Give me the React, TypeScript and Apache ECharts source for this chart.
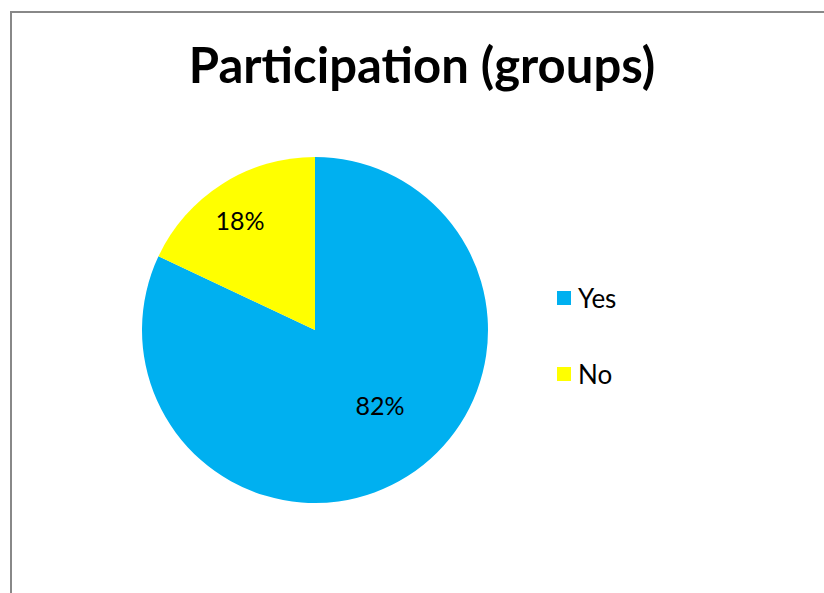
import React, { useEffect, useRef } from "react";
import * as echarts from "echarts";

const titleText = "Participation (groups)";
const categories = ["Yes", "No"];
const values = [82, 18];
const colors = ["#00B0F0", "#FFFF00"];
// label nudges (Excel best-fit placement)
const labelShift = [
  [17, -1],
  [-27, -34],
];

export default function App() {
  const ref = useRef<HTMLDivElement>(null);
  useEffect(() => {
    const chart = echarts.init(ref.current!, null, { renderer: "svg" });
    chart.setOption({
      animation: false,
      backgroundColor: "#ffffff",
      textStyle: { fontFamily: "Lato" },
      graphic: [
        {
          type: "rect",
          shape: { x: 11, y: 12, width: 900, height: 700 },
          style: { fill: "none", stroke: "#888888", lineWidth: 2 },
          silent: true,
        },
        {
          type: "text",
          x: 422,
          y: 64,
          style: {
            text: titleText,
            fontFamily: "Lato",
            fontWeight: "bold",
            fontSize: 49,
            fill: "#000",
            align: "center",
            verticalAlign: "middle",
          },
          silent: true,
        },
      ],
      legend: {
        orient: "vertical",
        left: 557,
        top: 285,
        padding: 0,
        itemWidth: 14,
        itemHeight: 14,
        itemGap: 50,
        icon: "rect",
        data: categories,
        textStyle: { fontFamily: "Lato", fontSize: 26, color: "#000", padding: [0, 0, 0, 2] },
      },
      series: [
        {
          type: "pie",
          center: [315, 330],
          radius: 173,
          startAngle: 90,
          clockwise: true,
          data: categories.map((c, i) => ({ name: c, value: values[i], itemStyle: { color: colors[i] } })),
          label: {
            show: true,
            position: "inside",
            formatter: "{d}%",
            fontFamily: "Lato",
            fontSize: 25,
            color: "#000",
          },
          labelLayout: (p: any) => ({ dx: labelShift[p.dataIndex][0], dy: labelShift[p.dataIndex][1] }),
          labelLine: { show: false },
          emphasis: { disabled: true },
        },
      ],
    });
    return () => chart.dispose();
  }, []);
  return <div ref={ref} style={{ position: "fixed", left: 0, top: 0, width: 824, height: 593 }} />;
}
